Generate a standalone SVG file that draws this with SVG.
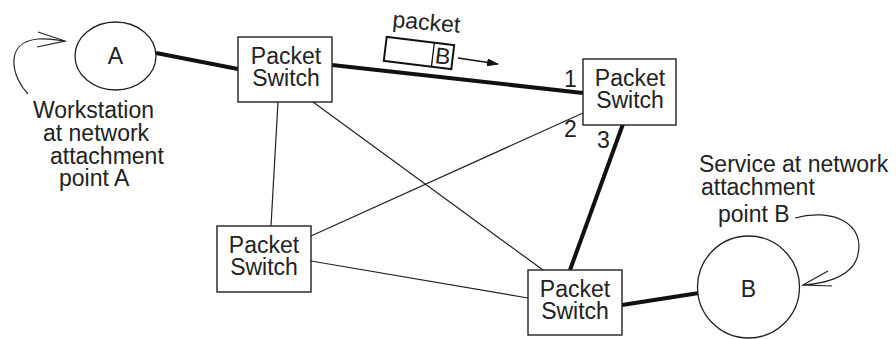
<svg xmlns="http://www.w3.org/2000/svg" width="896" height="339" viewBox="0 0 896 339">
<style>
text{font-family:"Liberation Sans",Arial,Helvetica,sans-serif;font-size:23px;fill:#222}
.box{fill:#fff;stroke:#222;stroke-width:1.4}
.thin{stroke:#222;stroke-width:1.2;fill:none}
.thick{stroke:#111;stroke-width:4;fill:none}
.curve{stroke:#222;stroke-width:1.2;fill:none}
</style>
<defs>
<marker id="fa" markerWidth="12" markerHeight="8" refX="11" refY="4" orient="auto" markerUnits="userSpaceOnUse">
<path d="M0,0 L12,4 L0,8 Z" fill="#111"/>
</marker>
</defs>
<g id="connectors">
<line class="thick" x1="156" y1="53" x2="238" y2="69"/>
<line class="thick" x1="332" y1="65" x2="583" y2="93"/>
<line class="thin" x1="278" y1="102" x2="271" y2="226"/>
<line class="thin" x1="313" y1="102" x2="543" y2="270"/>
<line class="thin" x1="311" y1="236" x2="583" y2="113"/>
<line class="thin" x1="311" y1="261" x2="528" y2="298"/>
<line class="thick" x1="623" y1="124" x2="570" y2="270"/>
<line class="thick" x1="622" y1="305" x2="699" y2="293"/>
<text x="564" y="87" font-size="22">1</text>
<text x="564" y="137" font-size="22">2</text>
<text x="597" y="148" font-size="22">3</text>
</g>
<g id="nodeA">
<ellipse cx="115.5" cy="56" rx="40.5" ry="34" fill="#fff" stroke="#222" stroke-width="1.3"/>
<text x="115.5" y="64" text-anchor="middle">A</text>
</g>
<g id="labelA">
<path class="curve" d="M28,94 C12,78 3,42 38,39 C48,38 56,40 65,41"/>
<path class="curve" d="M38,32 L65,41 L37,47"/>
<text x="33" y="118">Workstation</text>
<text x="43" y="141">at network</text>
<text x="50" y="164">attachment</text>
<text x="59" y="186">point A</text>
</g>
<g id="switch1">
<rect class="box" x="238" y="37" width="94" height="65"/>
<text x="286" y="64" text-anchor="middle">Packet</text>
<text x="286" y="86" text-anchor="middle">Switch</text>
</g>
<g id="switch2">
<rect class="box" x="583" y="59" width="93" height="66"/>
<text x="630" y="86" text-anchor="middle">Packet</text>
<text x="630" y="108" text-anchor="middle">Switch</text>
</g>
<g id="switch3">
<rect class="box" x="217" y="226" width="94" height="66"/>
<text x="264" y="253" text-anchor="middle">Packet</text>
<text x="264" y="275" text-anchor="middle">Switch</text>
</g>
<g id="switch4">
<rect class="box" x="528" y="270" width="94" height="65"/>
<text x="575" y="297" text-anchor="middle">Packet</text>
<text x="575" y="319" text-anchor="middle">Switch</text>
</g>
<g id="nodeB">
<circle cx="748.5" cy="287" r="51" fill="#fff" stroke="#222" stroke-width="1.3"/>
<text x="748.5" y="297" text-anchor="middle">B</text>
</g>
<g id="labelB">
<text x="699" y="172">Service at network</text>
<text x="701" y="195">attachment</text>
<text x="718" y="222">point B</text>
<path class="curve" d="M795,218 C830,208 868,222 857,258 C850,278 822,284 803,285"/>
<path class="curve" d="M828,271 L803,285 L832,286"/>
</g>
<g id="packet">
<text x="392" y="27" transform="rotate(5 392 27)" font-size="21">packet</text>
<g transform="translate(419,53) rotate(7)">
<rect x="-34" y="-12" width="68" height="24" fill="#fff" stroke="#111" stroke-width="2"/>
<line x1="14" y1="-12" x2="14" y2="12" stroke="#111" stroke-width="1.3"/>
<text x="24" y="8" text-anchor="middle" font-size="20">B</text>
</g>
<line x1="458" y1="58" x2="498" y2="64" stroke="#111" stroke-width="1.3" marker-end="url(#fa)"/>
</g>
</svg>
